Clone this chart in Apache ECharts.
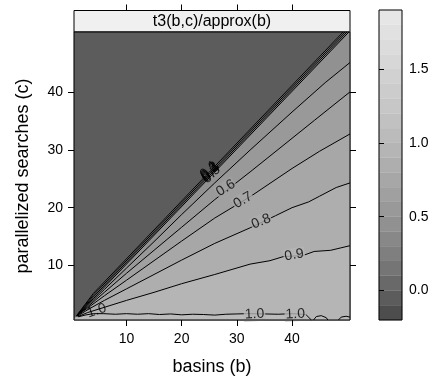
<!DOCTYPE html>
<html><head><meta charset="utf-8">
<script src="https://cdn.jsdelivr.net/npm/echarts@6/dist/echarts.min.js"></script>
<style>html,body{margin:0;padding:0;background:#fff}#c{width:439px;height:381px}</style>
</head><body><div id="c"></div>
<script>
// ---------- data ----------
const stripTitle = 't3(b,c)/approx(b)';
const xName = 'basins (b)';
const yName = 'parallelized searches (c)';
const xTicks = [10, 20, 30, 40];
const yTicks = [10, 20, 30, 40];
const barTicks = [0.0, 0.5, 1.0, 1.5];
const bandBreaks = [-0.2,-0.1,0.0,0.1,0.2,0.3,0.4,0.5,0.6,0.7,0.8,0.9,1.0,1.1,1.2,1.3,1.4,1.5,1.6,1.7,1.8,1.9];
const upperRegionValue = 0.0;   // value in the triangle c > b
const levelValues = [0.1,0.2,0.3,0.4,0.5,0.6,0.7,0.8,0.9,1.0];
// contour lines as [b, c] points
const line01 = [[1.0,1.3],[4,5.1],[49.25,50.5]];
const line02 = [[1.0,1.25],[4,4.8],[49.6,50.5]];
const line03 = [[1.0,1.2],[4,4.5],[49.95,50.5]];
const line04 = [[1.0,1.2],[4,4.2],[50.3,50.5]];
const line05 = [[1.0,1.2],[3,3.0],[6,5.8],[10,9.5],[15,14.1],[20,18.8],[26,24.3],[32.4,30.0],[40,36.6],[46,41.7],[50.5,45.2]];
const line06 = [[1.0,1.2],[3,2.8],[6,5.3],[10,8.6],[15,12.6],[20,16.6],[26,21.4],[32.4,26.2],[38,30.5],[44.1,35.2],[50.5,40.1]];
const line07 = [[1.0,1.2],[3,2.6],[6,4.7],[10,7.4],[15,10.8],[20,14.2],[26,18.2],[32.4,21.9],[40,26.8],[45,29.8],[50.5,32.8]];
const line08 = [[1.1,1.15],[3,2.3],[6,3.9],[10,5.9],[15,8.4],[20,10.9],[26,13.8],[32.4,16.5],[37,18.6],[40,20.0],[43,21.0],[45,22.0],[48,23.5],[50.5,24.3]];
const line09 = [[1.2,1.1],[3,1.8],[6,2.7],[10,3.9],[15,5.3],[20,6.8],[26,8.4],[32.4,10.2],[36,10.8],[38.4,11.5],[42,11.7],[44,12.4],[47,12.6],[50.5,13.4]];
const line10 = [[1.3,1.05],[2.5,1.35],[4.0,1.6],[5.8,1.6],[8,1.5],[10,1.6],[12,1.5],[14,1.6],[16,1.45],[18,1.55],[20,1.4],[22,1.5],[24,1.45],[26,1.35],[28,1.5],[30,1.55],[32,1.6],[35,1.55],[37.5,1.5],[40,1.6],[42.5,1.45],[43.5,0.5]];
const arc10a = [[43.9,0.5],[44.4,1.1],[45.3,1.25],[46.2,0.9],[46.5,0.5]];
const arc10b = [[48.4,0.5],[48.9,1.0],[49.8,1.15],[50.5,1.0]];
const labelText = ['0.1','0.2','0.3','0.4','0.5','0.6','0.7','0.8','0.9','1.0','1.0','1.0'];
const labelB    = [25.0,25.1,25.2,25.3,25.4,28.0,31.1,34.4,40.4,33.2,40.6,4.6];
const labelC    = [26.6,26.4,26.2,26.0,25.8,23.4,21.3,17.6,11.8,1.5,1.5,2.1];

// ---------- styling helpers ----------
const FONT = '"Liberation Sans", Arial, Helvetica, sans-serif';
const XMIN = 0.5, XMAX = 50.5, YMIN = 0.5, YMAX = 50.5;
const nBands = bandBreaks.length - 1;
function bandColor(k) {
  const s = Math.pow(0.3, 2.2), e = Math.pow(0.9, 2.2);
  const v = Math.round(255 * Math.pow(s + (e - s) * k / (nBands - 1), 1 / 2.2));
  return 'rgb(' + v + ',' + v + ',' + v + ')';
}
function bandAbove(level) {
  let best = 0, d = 1e9;
  bandBreaks.forEach((b, i) => { if (Math.abs(b - level) < d) { d = Math.abs(b - level); best = i; } });
  return Math.min(best, nBands - 1);
}
function bandContaining(v) {
  for (let i = 0; i < nBands; i++) if (v > bandBreaks[i] + 1e-9 && v <= bandBreaks[i + 1] + 1e-9) return i;
  return 0;
}
function closeBelow(ln) {
  const pts = ln.slice();
  const last = ln[ln.length - 1];
  if (last[1] >= YMAX - 1e-9) pts.push([XMAX, YMAX]);
  if (last[1] >= YMAX - 1e-9 || last[0] >= XMAX - 1e-9) pts.push([XMAX, YMIN]);
  pts.push([XMIN, YMIN]);
  return pts;
}
function closeArc(ln) {
  const pts = ln.slice();
  const last = ln[ln.length - 1];
  if (last[1] > YMIN) pts.push([last[0], YMIN]);
  return pts;
}

const contourLines = [line01,line02,line03,line04,line05,line06,line07,line08,line09,line10];
const polys = [];
polys.push({k: bandContaining(upperRegionValue), pts: [[XMIN,YMIN],[XMIN,YMAX],[XMAX,YMAX],[XMAX,YMIN]]});
contourLines.forEach((ln, i) => polys.push({k: bandAbove(levelValues[i]), pts: closeBelow(ln)}));
polys.push({k: bandAbove(1.0), pts: closeArc(arc10a)});
polys.push({k: bandAbove(1.0), pts: closeArc(arc10b)});

const lineSeries = contourLines.concat([arc10a, arc10b]).map(ln => ({
  type: 'line', xAxisIndex: 0, yAxisIndex: 0, data: ln, showSymbol: false, symbol: 'none',
  lineStyle: {color: '#000', width: 1}, silent: true, z: 3, animation: false
}));

const labelRot = [45,45,45,45,45,32,30,22,10,3,3,18];
const labelBg  = [null,null,null,null,null, bandColor(bandAbove(0.6)), bandColor(bandAbove(0.7)), bandColor(bandAbove(0.8)), bandColor(bandAbove(0.9)), bandColor(bandAbove(0.9)), bandColor(bandAbove(0.9)), null];
const labelData = labelText.map((t, i) => ({
  value: [labelB[i], labelC[i]], name: t,
  label: {rotate: labelRot[i], backgroundColor: labelBg[i] || 'transparent', padding: labelBg[i] ? [0,1] : 0}
}));

const bandData = [];
for (let i = 0; i < nBands; i++) bandData.push([bandBreaks[i], bandBreaks[i + 1], i]);

const chart = echarts.init(document.getElementById('c'), null, {renderer: 'canvas'});
chart.setOption({
  animation: false,
  backgroundColor: '#fff',
  textStyle: {fontFamily: FONT},
  grid: [
    {left: 74, right: 89, top: 32, bottom: 61, show: true, borderColor: '#000', borderWidth: 1, backgroundColor: 'transparent', z: 10},
    {left: 379, right: 37, top: 10, bottom: 61, show: true, borderColor: '#000', borderWidth: 1, backgroundColor: 'transparent', z: 10}
  ],
  graphic: [
    {type: 'rect', shape: {x: 74, y: 10.5, width: 276, height: 21.5}, style: {fill: '#f0f0f0', stroke: '#000', lineWidth: 1}, z: 1},
    {type: 'text', x: 212, y: 21.5, style: {text: stripTitle, font: '16px ' + FONT, fill: '#000', textAlign: 'center', textVerticalAlign: 'middle'}, z: 2}
  ],
  xAxis: [
    {gridIndex: 0, type: 'value', min: XMIN, max: XMAX, position: 'bottom', z: 10,
     axisLine: {show: false}, splitLine: {show: false},
     axisTick: {show: true, customValues: xTicks, length: 6, lineStyle: {color: '#000'}},
     axisLabel: {show: true, customValues: xTicks, fontSize: 14, color: '#000', margin: 12, fontFamily: FONT},
     name: xName, nameLocation: 'middle', nameGap: 38, nameTextStyle: {fontSize: 18, color: '#000', fontFamily: FONT}},
    {gridIndex: 0, type: 'value', min: XMIN, max: XMAX, position: 'top', offset: 21.5, z: 10,
     axisLine: {show: false}, splitLine: {show: false},
     axisTick: {show: true, customValues: xTicks, length: 6, lineStyle: {color: '#000'}},
     axisLabel: {show: false}},
    {gridIndex: 1, type: 'value', min: 0, max: 1, show: false}
  ],
  yAxis: [
    {gridIndex: 0, type: 'value', min: YMIN, max: YMAX, position: 'left', z: 10,
     axisLine: {show: false}, splitLine: {show: false},
     axisTick: {show: true, customValues: yTicks, length: 6, lineStyle: {color: '#000'}},
     axisLabel: {show: true, customValues: yTicks, fontSize: 14, color: '#000', margin: 11, fontFamily: FONT},
     name: yName, nameLocation: 'middle', nameGap: 42, nameRotate: 90, nameTextStyle: {fontSize: 18, color: '#000', fontFamily: FONT}},
    {gridIndex: 0, type: 'value', min: YMIN, max: YMAX, position: 'right', z: 10,
     axisLine: {show: false}, splitLine: {show: false},
     axisTick: {show: true, customValues: yTicks, length: 6, lineStyle: {color: '#000'}},
     axisLabel: {show: false}},
    {gridIndex: 1, type: 'value', min: bandBreaks[0], max: bandBreaks[bandBreaks.length - 1], position: 'right', z: 10,
     axisLine: {show: false}, splitLine: {show: false},
     axisTick: {show: true, customValues: barTicks, length: 5, lineStyle: {color: '#000'}},
     axisLabel: {show: true, customValues: barTicks, fontSize: 14, color: '#000', margin: 7, fontFamily: FONT,
                 formatter: v => Number(v).toFixed(1)}}
  ],
  series: [
    {type: 'custom', xAxisIndex: 0, yAxisIndex: 0, silent: true, z: 1,
     data: polys.map(p => p.pts[0]),
     renderItem: (params, api) => {
       const p = polys[params.dataIndex];
       return {type: 'polygon', shape: {points: p.pts.map(q => api.coord(q))},
               style: {fill: bandColor(p.k), stroke: bandColor(p.k), lineWidth: 0.3}};
     }},
    ...lineSeries,
    {type: 'scatter', xAxisIndex: 0, yAxisIndex: 0, symbolSize: 1, itemStyle: {color: 'rgba(0,0,0,0)'}, silent: true, z: 5,
     data: labelData,
     label: {show: true, position: 'inside', formatter: '{b}', fontSize: 14, color: '#000', fontFamily: FONT}},
    {type: 'custom', xAxisIndex: 2, yAxisIndex: 2, silent: true, z: 1,
     data: bandData,
     renderItem: (params, api) => {
       const lo = api.coord([0, api.value(0)]);
       const hi = api.coord([1, api.value(1)]);
       return {type: 'rect', shape: {x: lo[0], y: hi[1], width: hi[0] - lo[0], height: lo[1] - hi[1]},
               style: {fill: bandColor(api.value(2)), stroke: bandColor(api.value(2)), lineWidth: 0.3}};
     }}
  ]
});
</script></body></html>
